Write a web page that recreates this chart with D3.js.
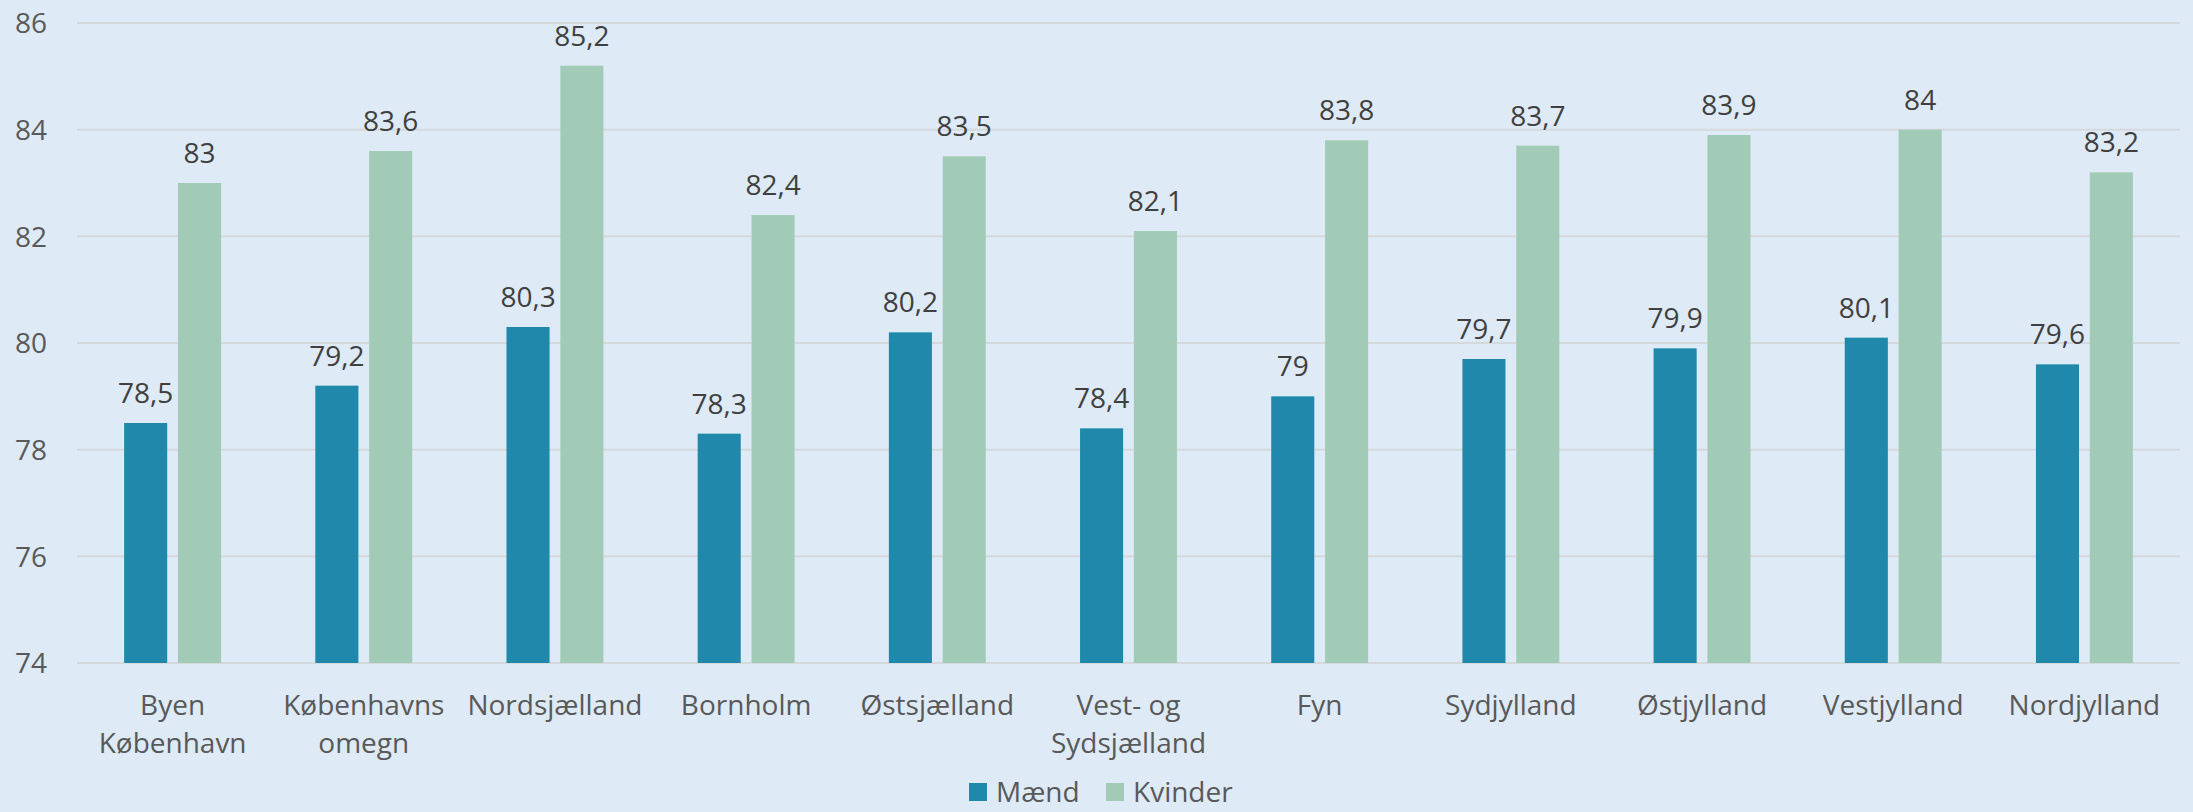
<!DOCTYPE html>
<meta charset="utf-8">
<style>
  body { margin: 0; background: #deeaf6; }
  text { font-family: "Open Sans", sans-serif; }
</style>
<body>
<script src="https://d3js.org/d3.v7.min.js"></script>
<script>

var regions = [
  ["Byen", "København"],
  ["Københavns", "omegn"],
  ["Nordsjælland"],
  ["Bornholm"],
  ["Østsjælland"],
  ["Vest- og", "Sydsjælland"],
  ["Fyn"],
  ["Sydjylland"],
  ["Østjylland"],
  ["Vestjylland"],
  ["Nordjylland"]
];
var maend   = [78.5, 79.2, 80.3, 78.3, 80.2, 78.4, 79, 79.7, 79.9, 80.1, 79.6];
var kvinder = [83, 83.6, 85.2, 82.4, 83.5, 82.1, 83.8, 83.7, 83.9, 84, 83.2];
var seriesNames = ["Mænd", "Kvinder"];
var yTicks = [74, 76, 78, 80, 82, 84, 86];

var width = 2193, height = 812;
var colors = ["#2089ab", "#a2cbb7"];
// plot area edges (note: "top" is reserved on window)
var plotLeft = 77, plotRight = 2180, plotTop = 23, plotBottom = 663;
var fs = "28px";

var keys = regions.map(function(r){ return r.join(" "); });
var rows = keys.map(function(k, i){ return {key: k, lines: regions[i], vals: [maend[i], kvinder[i]]}; });

var svg = d3.select("body").append("svg")
  .attr("width", width)
  .attr("height", height);

svg.append("rect").attr("width", width).attr("height", height).attr("fill", "#deeaf6");

// excel-like: each category gets width/n, group centred inside
var x0 = d3.scaleBand().domain(keys).range([plotLeft, plotRight])
  .paddingInner(0.493).paddingOuter(0.2465);
var x1 = d3.scaleBand().domain(seriesNames).range([0, x0.bandwidth()]).paddingInner(0.2);
var y = d3.scaleLinear().domain([74, 86]).range([plotBottom, plotTop]);

// gridlines
svg.append("g").selectAll("line").data(yTicks).enter().append("line")
  .attr("x1", plotLeft).attr("x2", plotRight)
  .attr("y1", function(d){ return y(d); })
  .attr("y2", function(d){ return y(d); })
  .attr("stroke", "#d6d9dc")
  .attr("stroke-width", 2);

// y axis labels
var yAxis = svg.append("g")
  .attr("transform", "translate(" + (plotLeft - 30) + ",0)")
  .call(d3.axisLeft(y).tickValues(yTicks).tickSize(0).tickPadding(0));
yAxis.select(".domain").remove();
yAxis.selectAll("text")
  .attr("fill", "#595959")
  .style("font-size", fs)
  .style("font-family", "'Open Sans', sans-serif")
  .attr("dy", "0.35em");

// bars
var g = svg.append("g").selectAll("g").data(rows).enter().append("g")
  .attr("transform", function(d){ return "translate(" + x0(d.key) + ",0)"; });

g.selectAll("rect").data(function(d){ return d.vals; }).enter().append("rect")
  .attr("x", function(d, i){ return x1(seriesNames[i]); })
  .attr("y", function(d){ return y(d); })
  .attr("width", x1.bandwidth())
  .attr("height", function(d){ return y(74) - y(d); })
  .attr("fill", function(d, i){ return colors[i]; });

g.selectAll("text.val").data(function(d){ return d.vals; }).enter().append("text")
  .attr("class", "val")
  .attr("x", function(d, i){ return x1(seriesNames[i]) + x1.bandwidth() / 2; })
  .attr("y", function(d){ return y(d) - 20; })
  .attr("text-anchor", "middle")
  .attr("fill", "#404040")
  .style("font-size", fs)
  .text(function(d){ return String(d).replace(".", ","); });

// x labels
var xl = g.append("text")
  .attr("text-anchor", "middle")
  .attr("fill", "#595959")
  .style("font-size", fs)
  .attr("transform", "translate(" + (x0.bandwidth() / 2) + ",715)");
xl.selectAll("tspan").data(function(d){ return d.lines; }).enter().append("tspan")
  .attr("x", 0)
  .attr("y", function(d, i){ return i * 38; })
  .text(function(d){ return d; });

// legend
var legend = svg.append("g").attr("transform", "translate(969,802)");
var lx = [0, 137];
var li = legend.selectAll("g").data(seriesNames).enter().append("g")
  .attr("transform", function(d, i){ return "translate(" + lx[i] + ",0)"; });
li.append("rect")
  .attr("y", -19).attr("width", 18).attr("height", 18)
  .attr("fill", function(d, i){ return colors[i]; });
li.append("text")
  .attr("x", 27)
  .attr("fill", "#595959")
  .style("font-size", fs)
  .text(function(d){ return d; });

</script>
</body>
